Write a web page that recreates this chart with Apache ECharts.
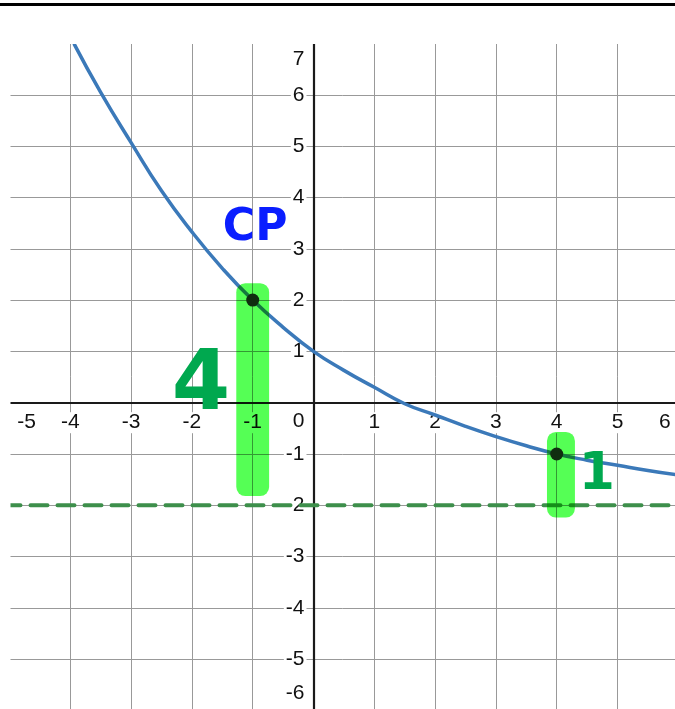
<!DOCTYPE html>
<html>
<head>
<meta charset="UTF-8">
<title>graph</title>
<script type="text/javascript" src="https://cdn.jsdelivr.net/npm/echarts@6/dist/echarts.min.js"></script>
<style>
  html, body { margin: 0; padding: 0; background: #fff; }
</style>
</head>
<body>
<div id="main" style="width: 675px; height: 709px"></div>

<script type="text/javascript">
	// curve
	var curveX = [-3.94, -3.5, -3, -2.5, -2, -1.5, -1, -0.5, 0, 0.5, 1, 1.5, 2, 2.5, 3, 3.5, 4, 4.5, 5, 5.5, 6];
	var curveY = [7.0, 6.05, 5.07, 4.13, 3.33, 2.62, 2.0, 1.47, 1.0, 0.63, 0.30, -0.02, -0.24, -0.46, -0.66, -0.84, -1.0, -1.12, -1.22, -1.32, -1.41];

	// marked points and the dashed asymptote
	var pointX = [-1, 4];
	var pointY = [2, -1];
	var asymptoteY = -2;

	// highlighter strokes (data units)
	var hlLeft = [-1.27, 3.84];
	var hlRight = [-0.73, 4.30];
	var hlTop = [2.33, -0.57];
	var hlBottom = [-1.82, -2.24];

	// handwritten notes
	var noteText = ['CP', '4', '1'];
	var noteX = [-0.96, -1.85, 4.66];
	var noteY = [3.4, 0.3, -1.42];

	var xMin = -5, xMax = 6, yMin = -6, yMax = 7;
	var gridW = 668.8, gridH = 666.9;

	var curveData = [];
	for (var i = 0; i < curveX.length; i++) {
		curveData.push([curveX[i], curveY[i]]);
	}
	var pointData = [];
	for (var i = 0; i < pointX.length; i++) {
		pointData.push([pointX[i], pointY[i]]);
	}
	var hlData = [];
	for (var i = 0; i < hlLeft.length; i++) {
		hlData.push([hlLeft[i], hlTop[i], hlRight[i], hlBottom[i]]);
	}
	var noteColors = ['#0a1eff', '#00a84f', '#00a84f'];
	var noteSizes = [44, 84, 52];
	var noteData = [];
	for (var i = 0; i < noteText.length; i++) {
		noteData.push({
			name: noteText[i],
			value: [noteX[i], noteY[i]],
			label: { color: noteColors[i], fontSize: noteSizes[i] }
		});
	}

	var labelFont = 'Liberation Sans, Arial, sans-serif';
	var numStyle = { fontSize: 21, fontFamily: labelFont, color: '#111', backgroundColor: '#fff', padding: [0, 2], lineHeight: 22 };

	var mychart = echarts.init(document.getElementById('main'));
	var option = {
		animation: false,
		grid: { left: 9.5, top: 43.6, width: gridW, height: gridH, outerBoundsMode: 'none', containLabel: false },
		xAxis: {
			type: 'value',
			min: xMin, max: xMax, interval: 1,
			// put the axis on y = 0
			offset: -(0 - yMin) / (yMax - yMin) * gridH,
			axisLine: { onZero: false, lineStyle: { color: '#1a1a1a', width: 2.2 } },
			axisTick: { show: false },
			splitLine: { lineStyle: { color: '#999', width: 1 } },
			axisLabel: {
				interval: 0, showMinLabel: true, showMaxLabel: true, margin: 9, hideOverlap: false,
				fontSize: 21, fontFamily: labelFont,
				formatter: function (v) {
					if (v === 0) return '';
					if (v === xMin) return '{sl|}{n|' + v + '}';
					if (v === xMax) return '{n|' + v + '}{sr|}';
					return '{n|' + v + '}';
				},
				rich: { n: numStyle, sl: { width: 34 }, sr: { width: 27 } }
			}
		},
		yAxis: {
			type: 'value',
			min: yMin, max: yMax, interval: 1,
			// put the axis on x = 0
			offset: -(0 - xMin) / (xMax - xMin) * gridW,
			axisLine: { onZero: false, lineStyle: { color: '#1a1a1a', width: 2.2 } },
			axisTick: { show: false },
			splitLine: { lineStyle: { color: '#999', width: 1 } },
			axisLabel: {
				showMinLabel: true, showMaxLabel: true, margin: 7, hideOverlap: false,
				fontSize: 21, fontFamily: labelFont,
				formatter: function (v) {
					if (v === 0) return '{s0| }\n{n|0}';
					if (v === yMax) return '{s7| }\n{n|' + v + '}';
					if (v === yMin) return '{n|' + v + '}\n{s6| }';
					return '{n|' + v + '}';
				},
				rich: { n: numStyle, s0: { lineHeight: 38 }, s7: { lineHeight: 32 }, s6: { lineHeight: 34 } }
			}
		},
		graphic: [
			{ type: 'rect', z: 50, shape: { x: 0, y: 40, width: 10.5, height: 669 }, style: { fill: '#fff' } },
			{ type: 'rect', z: 50, shape: { x: 0, y: 7, width: 675, height: 37 }, style: { fill: '#fff' } },
			{ type: 'rect', z: 60, shape: { x: 0, y: 3, width: 675, height: 3 }, style: { fill: '#000' } }
		],
		series: [
			{
				name: 'asymptote',
				type: 'line',
				symbol: 'none',
				z: 2,
				data: [[xMin, asymptoteY], [xMax, asymptoteY]],
				lineStyle: { color: '#3d8f4b', width: 4, type: [17, 10], cap: 'round', dashOffset: 6 }
			},
			{
				name: 'curve',
				type: 'line',
				smooth: 0.5,
				symbol: 'none',
				z: 3,
				data: curveData,
				lineStyle: { color: '#3b79b9', width: 3.5 }
			},
			{
				name: 'points',
				type: 'scatter',
				symbolSize: 13,
				z: 4,
				data: pointData,
				itemStyle: { color: '#2e2e2e', opacity: 1 }
			},
			{
				name: 'highlight',
				type: 'custom',
				z: 5,
				blendMode: 'multiply',
				data: hlData,
				encode: { x: [0, 2], y: [1, 3] },
				renderItem: function (params, api) {
					var p0 = api.coord([api.value(0), api.value(1)]);
					var p1 = api.coord([api.value(2), api.value(3)]);
					return {
						type: 'rect',
						shape: { x: p0[0], y: p0[1], width: p1[0] - p0[0], height: p1[1] - p0[1], r: 9 },
						style: { fill: '#55ff55' }
					};
				}
			},
			{
				name: 'notes',
				type: 'scatter',
				symbolSize: 1,
				z: 6,
				itemStyle: { color: 'rgba(0,0,0,0)', opacity: 1 },
				label: {
					show: true, position: 'inside',
					fontFamily: 'DejaVu Sans, sans-serif',
					fontWeight: 'bold',
					formatter: function (p) { return p.name; }
				},
				data: noteData
			}
		]
	};
	mychart.setOption(option);
</script>
</body>
</html>
